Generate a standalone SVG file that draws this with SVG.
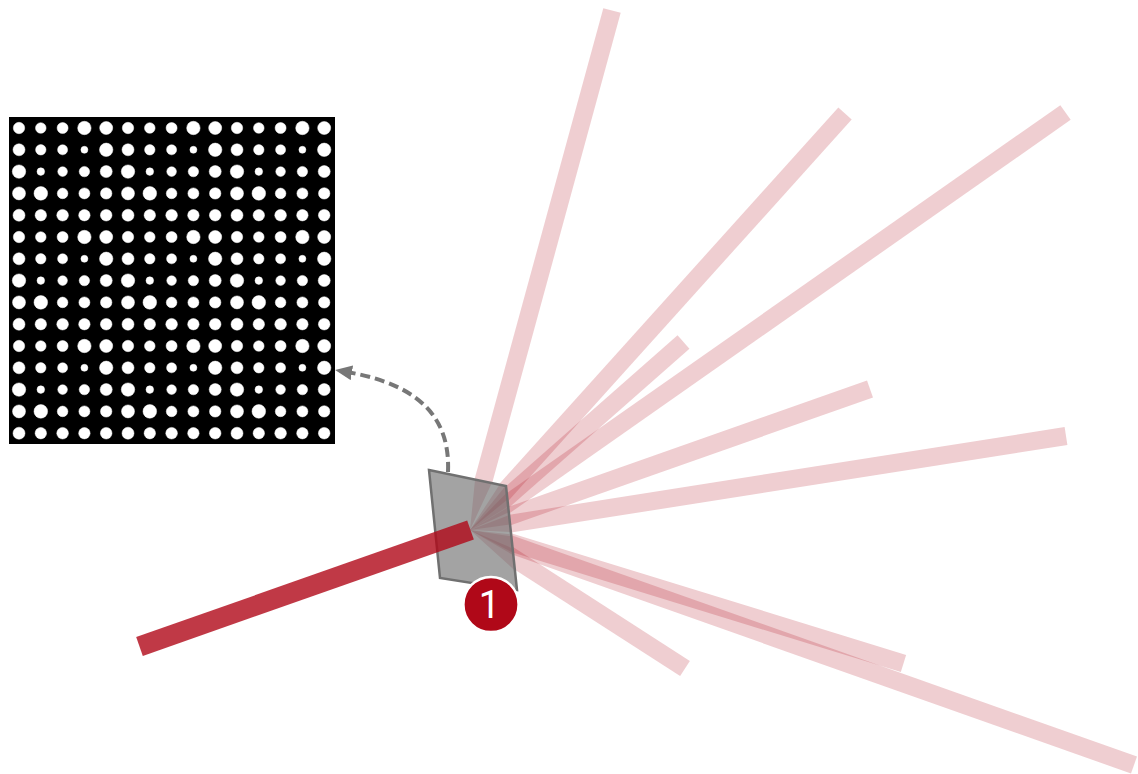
<svg xmlns="http://www.w3.org/2000/svg" width="1138" height="774" viewBox="0 0 1138 774">
<style>
.dot{fill:#fff;stroke:#fff;stroke-width:.5}
.beam{fill:none;stroke:#b00818;stroke-opacity:.2;stroke-width:18}
.wedge{fill:#b00818;fill-opacity:.2}
.lbl{font-family:Roboto,"Liberation Sans",Arial,sans-serif;font-size:38px;font-weight:400;fill:#fff;text-anchor:middle}
</style>
<defs>
<clipPath id="outside"><path clip-rule="evenodd" d="M0,0 H1138 V774 H0 Z M429,470 L506,486 L517,590 L440,578 Z"/></clipPath>
<clipPath id="inside"><path d="M429,470 L506,486 L517,590 L440,578 Z"/></clipPath>
<marker id="arrow" markerUnits="userSpaceOnUse" markerWidth="18" markerHeight="16" refX="8" refY="7.5" orient="auto"><path d="M0,0 L17,7.5 L0,15 Z" fill="#777"/></marker>
<g id="tile" class="dot">
<circle cx="0" cy="0" r="5.7"/><circle cx="21.8" cy="0" r="5.3"/><circle cx="43.6" cy="0" r="5.5"/><circle cx="65.4" cy="0" r="6.7"/><circle cx="87.2" cy="0" r="6.5"/>
<circle cx="0" cy="21.8" r="6"/><circle cx="21.8" cy="21.8" r="5.2"/><circle cx="43.6" cy="21.8" r="5"/><circle cx="65.4" cy="21.8" r="3.5"/><circle cx="87.2" cy="21.8" r="6.7"/>
<circle cx="0" cy="43.6" r="6.7"/><circle cx="21.8" cy="43.6" r="3.8"/><circle cx="43.6" cy="43.6" r="4.8"/><circle cx="65.4" cy="43.6" r="5.2"/><circle cx="87.2" cy="43.6" r="6"/>
<circle cx="0" cy="65.4" r="6.5"/><circle cx="21.8" cy="65.4" r="6.8"/><circle cx="43.6" cy="65.4" r="5.3"/><circle cx="65.4" cy="65.4" r="5.5"/><circle cx="87.2" cy="65.4" r="5.7"/>
<circle cx="0" cy="87.2" r="6"/><circle cx="21.8" cy="87.2" r="5.7"/><circle cx="43.6" cy="87.2" r="5.8"/><circle cx="65.4" cy="87.2" r="5.7"/><circle cx="87.2" cy="87.2" r="5.8"/>
</g>
</defs>
<rect width="1138" height="774" fill="#fff"/>
<g id="pattern">
<rect x="9" y="117" width="326" height="327" fill="#000"/>
<use href="#tile" x="19" y="128"/><use href="#tile" x="128" y="128"/><use href="#tile" x="237" y="128"/>
<use href="#tile" x="19" y="237"/><use href="#tile" x="128" y="237"/><use href="#tile" x="237" y="237"/>
<use href="#tile" x="19" y="346"/><use href="#tile" x="128" y="346"/><use href="#tile" x="237" y="346"/>
</g>
<g id="connectors">
<g clip-path="url(#outside)">
<path class="beam" d="M470,530 L612,10.5"/>
<path class="beam" d="M470,530 L845,113.5"/>
<path class="beam" d="M470,530 L1065.5,112.5"/>
<path class="beam" d="M470,530 L683.5,342"/>
<path class="beam" d="M470,530 L870,389"/>
<path class="beam" d="M470,530 L1066,436"/>
<path class="beam" d="M470,530 L903.5,663.5"/>
<path class="beam" d="M470,530 L1134,765"/>
<path class="beam" d="M470,530 L685,668.5"/>
</g>
<g clip-path="url(#inside)">
<path class="wedge" d="M470,530 L513,437.1 L480.2,428.1 Z"/>
<path class="wedge" d="M470,530 L555.4,460.5 L530.2,437.7 Z"/>
<path class="wedge" d="M470,530 L555.5,490.9 L535.9,463.1 Z"/>
<path class="wedge" d="M470,530 L555.6,477.2 L533.2,451.6 Z"/>
<path class="wedge" d="M470,530 L554.1,518.3 L542.8,486.3 Z"/>
<path class="wedge" d="M470,530 L552.7,534.2 L547.4,500.6 Z"/>
<path class="wedge" d="M470,530 L549.1,572.1 L559.1,539.7 Z"/>
<path class="wedge" d="M470,530 L548.8,575.9 L560.2,543.9 Z"/>
<path class="wedge" d="M470,530 L548.1,600.5 L566.5,571.9 Z"/>
</g>
</g>
<g id="plate">
<path d="M429,470 L506,486 L517,590 L440,578 Z" fill="#666" fill-opacity=".6" stroke="#707070" stroke-width="2.5"/>
</g>
<g id="input-beam">
<path d="M139.5,646.5 L470.5,530" fill="none" stroke="#b00818" stroke-opacity=".8" stroke-width="20"/>
</g>
<g id="arrow-link">
<path d="M448,472 C450,425 428,385 344,371.5" fill="none" stroke="#777" stroke-width="4" stroke-dasharray="10 5" marker-end="url(#arrow)"/>
</g>
<g id="badge">
<circle cx="491" cy="604.5" r="27.6" fill="#b00818" stroke="#fff" stroke-width="2.5"/>
<text class="lbl" x="489.5" y="618">1</text>
</g>
</svg>
